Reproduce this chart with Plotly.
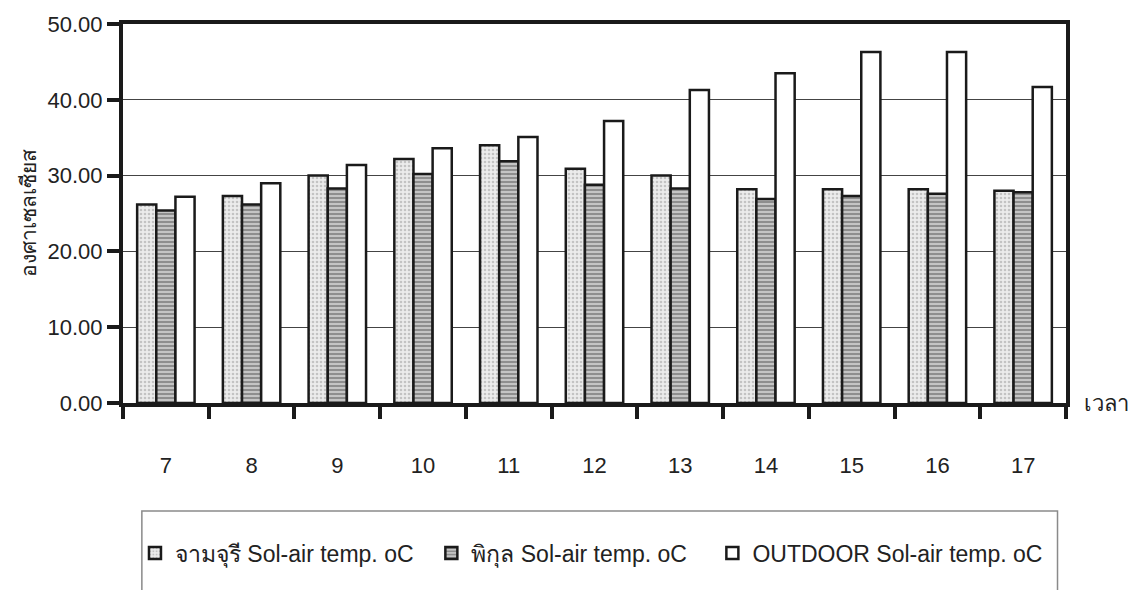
import plotly.graph_objects as go

hours = ["7", "8", "9", "10", "11", "12", "13", "14", "15", "16", "17"]
jamjuree = [26.2, 27.3, 30.0, 32.2, 34.0, 30.9, 30.0, 28.2, 28.2, 28.2, 28.0]
pikul = [25.4, 26.2, 28.3, 30.2, 31.9, 28.8, 28.3, 26.9, 27.3, 27.6, 27.8]
outdoor = [27.2, 29.0, 31.4, 33.6, 35.1, 37.2, 41.3, 43.5, 46.3, 46.3, 41.7]
series_names = ["จามจุรี Sol-air temp. oC", "พิกุล Sol-air temp. oC", "OUTDOOR Sol-air temp. oC"]
y_ticks = [0, 10, 20, 30, 40, 50]

FONT = "Liberation Sans, Arial, sans-serif"
INK = "#1a1a1a"

fig = go.Figure()
fig.add_trace(go.Bar(
    x=hours, y=jamjuree, name=series_names[0], legend="legend",
    marker=dict(color="#e8e8e8", line=dict(color=INK, width=2.5),
                pattern=dict(shape=".", fgcolor="#9a9a9a", bgcolor="#ececec", size=4, solidity=0.35)),
))
fig.add_trace(go.Bar(
    x=hours, y=pikul, name=series_names[1], legend="legend2",
    marker=dict(color="#a8a8a8", line=dict(color=INK, width=2.5),
                pattern=dict(shape="-", fgcolor="#3c3c3c", bgcolor="#c4c4c4", size=4, solidity=0.4)),
))
fig.add_trace(go.Bar(
    x=hours, y=outdoor, name=series_names[2], legend="legend3",
    marker=dict(color="white", line=dict(color=INK, width=2.5)),
))

leg_common = dict(orientation="h", xanchor="left", y=-0.339, yanchor="top",
                  font=dict(size=23, family=FONT), itemwidth=30,
                  bgcolor="rgba(0,0,0,0)")

fig.update_layout(
    width=1143, height=590,
    margin=dict(l=123, r=77, t=19, b=187),
    paper_bgcolor="white", plot_bgcolor="white",
    barmode="group", bargap=0.33, bargroupgap=0,
    font=dict(family=FONT, size=22, color="#222222"),
    showlegend=True,
    legend=dict(x=0.0127, **leg_common),
    legend2=dict(x=0.327, **leg_common),
    legend3=dict(x=0.625, **leg_common),
    xaxis=dict(
        type="category", showgrid=False, tickson="boundaries",
        ticks="outside", ticklen=12, tickwidth=4, tickcolor=INK,
        showline=True, linecolor=INK, linewidth=4, mirror=True,
        ticklabelstandoff=40, tickfont=dict(size=22),
    ),
    yaxis=dict(
        range=[0, 50], tickvals=y_ticks, tickformat=".2f",
        showgrid=True, gridcolor="#444444", gridwidth=1,
        ticks="outside", ticklen=12, tickwidth=4, tickcolor=INK,
        showline=True, linecolor=INK, linewidth=4, mirror=True,
        zeroline=False, tickfont=dict(size=22), ticklabelstandoff=0,
        title=dict(text="องศาเซลเซียส", font=dict(size=21), standoff=6),
    ),
)

# legend frame
fig.add_shape(type="rect", xref="paper", yref="paper",
              x0=0.02, x1=0.991, y0=-0.56, y1=-0.285,
              line=dict(color="#8a8a8a", width=1.5), fillcolor="rgba(0,0,0,0)")

fig.add_annotation(text="เวลา", xref="paper", yref="y", x=1, y=0,
                   xanchor="left", yanchor="middle", xshift=16, showarrow=False,
                   font=dict(size=22, family=FONT))

fig.write_html("out.html")
